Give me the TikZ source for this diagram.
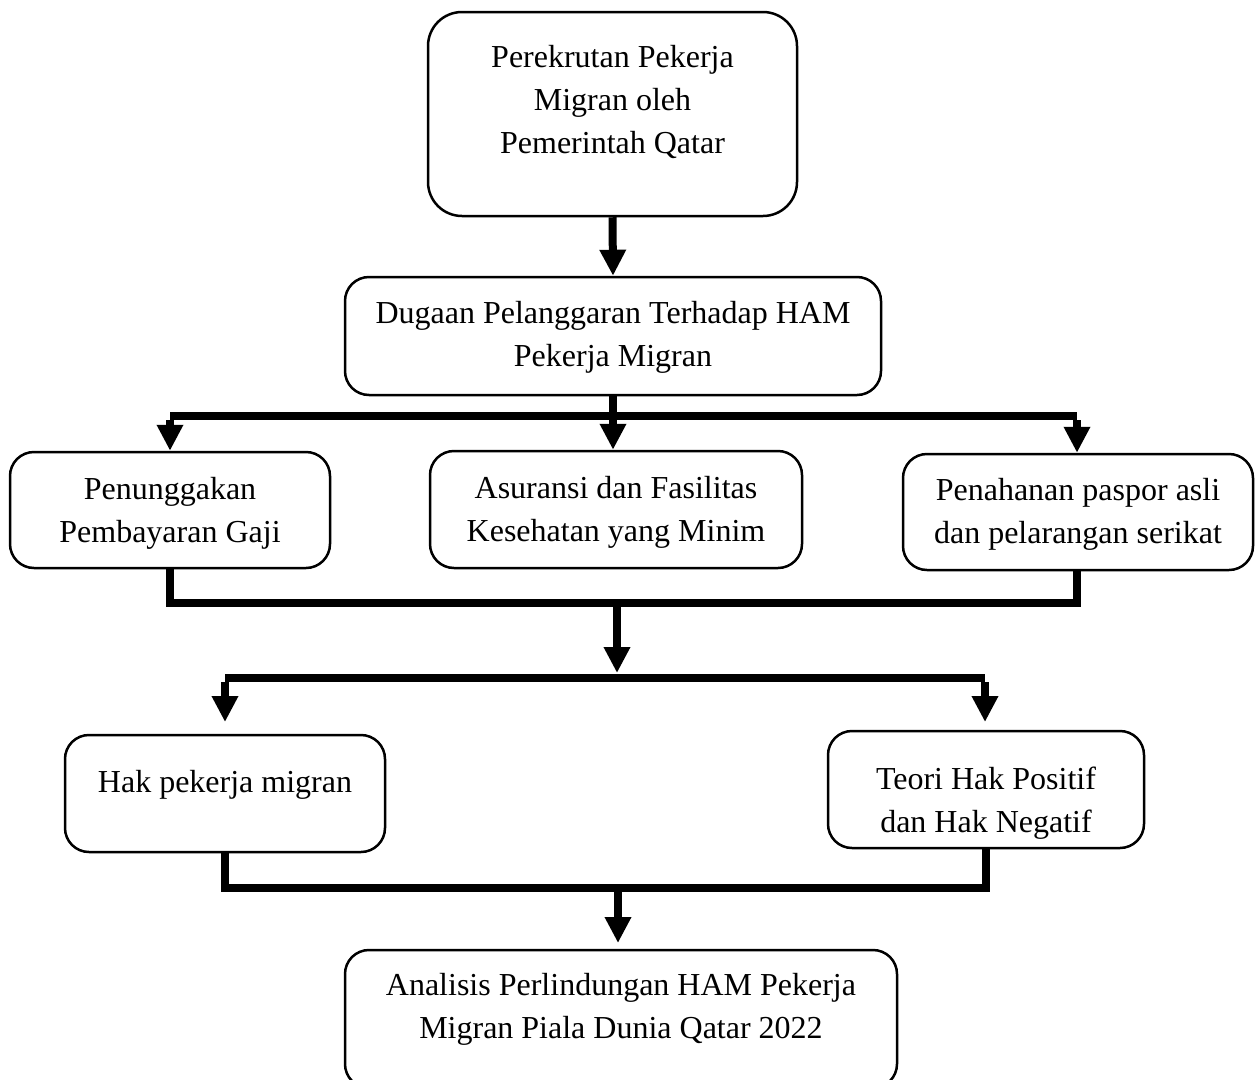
\documentclass[tikz,border=0pt]{standalone}
\usepackage{fontspec}
\setmainfont{Liberation Serif}
\usetikzlibrary{arrows.meta}
\begin{document}
\begin{tikzpicture}[x=1pt,y=-1pt,
  txt/.style={align=center, inner sep=0pt, font=\fontsize{32}{43}\selectfont},
  box/.style={draw, line width=2.5pt, rounded corners=24pt, inner sep=0pt},
  bar/.style={line width=8pt, line join=miter},
  conn/.style={line width=8pt, -{Triangle[width=25pt,length=26pt]}}]
\clip (0,0) rectangle (1258,1079);
\useasboundingbox (0,0) rectangle (1258,1079);
% boxes
\node[box, rounded corners=34pt, minimum width=369pt, minimum height=204pt] (top) at (612.5,114) {};
\node[box, minimum width=536pt, minimum height=118pt] (b2) at (613,336) {};
\node[box, minimum width=320pt, minimum height=116pt] (a) at (170,510) {};
\node[box, minimum width=372pt, minimum height=117pt] (b) at (616,509.5) {};
\node[box, minimum width=350pt, minimum height=116pt] (c) at (1078,512) {};
\node[box, minimum width=320pt, minimum height=117pt] (d) at (225,793.5) {};
\node[box, minimum width=316pt, minimum height=117pt] (e) at (986,789.5) {};
\node[box, minimum width=552pt, minimum height=138pt] (f) at (621,1019) {};
% texts
\node[txt] (toptext) at (612.5,102) {Perekrutan Pekerja\\Migran oleh\\Pemerintah Qatar};
\node[txt] (b2text) at (613,337.5) {Dugaan Pelanggaran Terhadap HAM\\Pekerja Migran};
\node[txt] (atext) at (170,513) {Penunggakan\\Pembayaran Gaji};
\node[txt] (btext) at (616,512.5) {Asuransi dan Fasilitas\\Kesehatan yang Minim};
\node[txt] (ctext) at (1078,514) {Penahanan paspor asli\\dan pelarangan serikat};
\node[txt] (dtext) at (225,785) {Hak pekerja migran};
\node[txt] (etext) at (986,803) {Teori Hak Positif\\dan Hak Negatif};
\node[txt] (ftext) at (621,1009) {Analisis Perlindungan HAM Pekerja\\Migran Piala Dunia Qatar 2022};
% top to second
\draw[conn] (top.south) -- (b2.north);
% first bus
\coordinate (bus1L) at (170,416);
\coordinate (bus1R) at (1077,416);
\draw[bar] (bus1L) -- (bus1R);
\draw[conn] (b2.south) -- (b2.south |- b.north);
\draw[conn] ([yshift=-4pt]bus1L) -- (a.north);
\draw[conn] ([yshift=-4pt]bus1R) -- (bus1R |- c.north);
% second bus
\coordinate (bus2) at (617,603);
\draw[bar] (a.south) |- (bus2) -| (c.south -| bus1R);
\coordinate (tip2) at (617,673);
\draw[conn] (bus2) -- (tip2);
% third bus
\coordinate (bus3L) at (225,678);
\coordinate (bus3R) at (985,678);
\draw[bar] (bus3L) -- (bus3R);
\coordinate (tipD) at (225,722);
\coordinate (tipE) at (985,722);
\draw[conn] ([yshift=-4pt]bus3L) -- (tipD);
\draw[conn] ([yshift=-4pt]bus3R) -- (tipE);
% fourth bus
\coordinate (bus4) at (618,888);
\draw[bar] (d.south) |- (bus4) -| (e.south);
\coordinate (tipF) at (618,943);
\draw[conn] (bus4) -- (tipF);
\end{tikzpicture}
\end{document}
